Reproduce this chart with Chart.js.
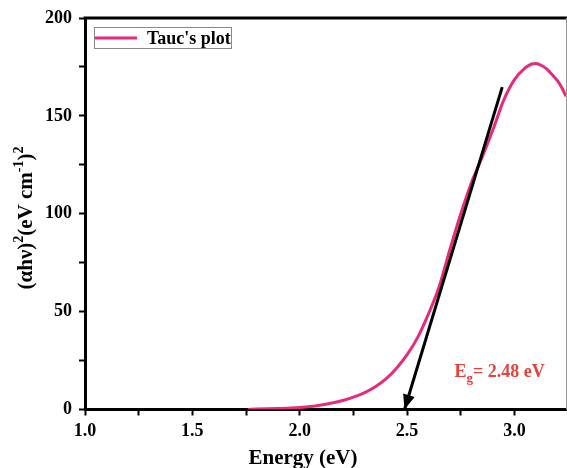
<!DOCTYPE html>
<html>
<head>
<meta charset="utf-8">
<script src="https://cdn.jsdelivr.net/npm/chart.js@4.4.1/dist/chart.umd.min.js"></script>
<style>
  html, body { margin: 0; padding: 0; background: #fff; }
  #wrap { width: 567px; height: 468px; }
</style>
</head>
<body>
<div id="wrap"><canvas id="taucChart" width="567" height="468"></canvas></div>
<script>
// photon energy (eV) and (alpha h nu)^2
const energy = [1.76, 1.80, 1.90, 2.00, 2.05, 2.10, 2.15, 2.20, 2.25, 2.30, 2.35, 2.40, 2.45, 2.50,
                2.55, 2.60, 2.65, 2.70, 2.75, 2.80, 2.85, 2.90, 2.95, 3.00, 3.05, 3.08, 3.10, 3.13,
                3.15, 3.18, 3.20, 3.22, 3.24];
const taucValues = [0, 0.2, 0.5, 1.0, 1.5, 2.3, 3.3, 4.6, 6.3, 8.5, 11.5, 15.5, 21, 28,
                    37, 49, 63, 82, 100, 116, 129, 143, 158, 168.5, 174.5, 176.5, 176.8, 175.5,
                    174, 170.5, 168, 164.5, 160];

// linear fit line (tangent) ending on the energy axis
const fitEnergy = [2.943, 2.488];
const fitValues = [164.7, 0];

const xTicks = [1.0, 1.5, 2.0, 2.5, 3.0];
const xMinorTicks = [1.25, 1.75, 2.25, 2.75];
const yTicks = [0, 50, 100, 150, 200];
const bandGap = 2.48;

const pink = '#e8297c';
const red = '#e8403a';
const serif = "'Liberation Serif', 'Times New Roman', serif";

function toPoints(xs, ys) {
    return xs.map((x, i) => ({ x: x, y: ys[i] }));
}

// draw a run of [text, size, raise] pieces starting at x, returns end x
function drawPieces(ctx, pieces, x, y) {
    pieces.forEach(p => {
        ctx.font = 'bold ' + p[1] + 'px ' + serif;
        ctx.fillText(p[0], x, y - p[2]);
        x += ctx.measureText(p[0]).width;
    });
    return x;
}

function piecesWidth(ctx, pieces) {
    let w = 0;
    pieces.forEach(p => {
        ctx.font = 'bold ' + p[1] + 'px ' + serif;
        w += ctx.measureText(p[0]).width;
    });
    return w;
}

// frame, arrow head, legend, axis titles and E_g label
const extrasPlugin = {
    id: 'extras',
    afterDraw(chart) {
        const ctx = chart.ctx;
        const area = chart.chartArea;
        const xs = chart.scales.x;
        const ys = chart.scales.y;
        ctx.save();

        // top frame line and thin right edge
        ctx.strokeStyle = '#000';
        ctx.lineWidth = 3;
        ctx.beginPath();
        ctx.moveTo(area.left - 1.5, area.top);
        ctx.lineTo(area.right + 2, area.top);
        ctx.stroke();
        ctx.strokeStyle = '#999';
        ctx.lineWidth = 1;
        ctx.beginPath();
        ctx.moveTo(area.right + 0.5, area.top);
        ctx.lineTo(area.right + 0.5, area.bottom);
        ctx.stroke();

        // arrow head at the bottom of the fit line
        const x0 = xs.getPixelForValue(fitEnergy[0]), y0 = ys.getPixelForValue(fitValues[0]);
        const x1 = xs.getPixelForValue(fitEnergy[1]), y1 = ys.getPixelForValue(fitValues[1]);
        const ang = Math.atan2(y1 - y0, x1 - x0);
        const len = 15, half = 6;
        ctx.fillStyle = '#000';
        ctx.beginPath();
        ctx.moveTo(x1, y1);
        ctx.lineTo(x1 - len * Math.cos(ang) + half * Math.sin(ang), y1 - len * Math.sin(ang) - half * Math.cos(ang));
        ctx.lineTo(x1 - len * Math.cos(ang) - half * Math.sin(ang), y1 - len * Math.sin(ang) + half * Math.cos(ang));
        ctx.closePath();
        ctx.fill();

        // legend
        const lx = area.left + 9, ly = area.top + 9;
        ctx.strokeStyle = '#888';
        ctx.lineWidth = 1;
        ctx.strokeRect(lx + 0.5, ly + 0.5, 137, 21);
        ctx.strokeStyle = pink;
        ctx.lineWidth = 3;
        ctx.beginPath();
        ctx.moveTo(lx + 1, ly + 11);
        ctx.lineTo(lx + 43, ly + 11);
        ctx.stroke();
        ctx.fillStyle = '#000';
        ctx.font = 'bold 18px ' + serif;
        ctx.textBaseline = 'alphabetic';
        ctx.fillText("Tauc's plot", lx + 53, ly + 17);

        // x axis title
        ctx.font = 'bold 21px ' + serif;
        ctx.textAlign = 'center';
        ctx.fillText('Energy (eV)', 303, 464);
        ctx.textAlign = 'left';

        // y axis title, rotated, with real superscripts
        const yTitle = [['(\u03b1h\u03bd)', 21, 0], ['2', 14, 9], ['(eV cm', 21, 0], ['-1', 14, 9],
                        [')', 21, 0], ['2', 14, 9]];
        ctx.save();
        ctx.translate(32, 218);
        ctx.rotate(-Math.PI / 2);
        drawPieces(ctx, yTitle, -piecesWidth(ctx, yTitle) / 2, 0);
        ctx.restore();

        // band gap label
        const tx = xs.getPixelForValue(2.721);
        const ty = ys.getPixelForValue(16.6);
        ctx.fillStyle = red;
        drawPieces(ctx, [['E', 18, 0], ['g', 13, -5], ['= ' + bandGap.toFixed(2) + ' eV', 18, 0]], tx, ty);

        ctx.restore();
    }
};

document.addEventListener("DOMContentLoaded", function() {
    const ctx = document.getElementById('taucChart').getContext('2d');

    new Chart(ctx, {
        type: 'line',
        data: {
            datasets: [{
                label: 'fit',
                data: toPoints(fitEnergy, fitValues),
                borderColor: '#000',
                borderWidth: 3,
                pointRadius: 0,
                tension: 0
            }, {
                label: "Tauc's plot",
                data: toPoints(energy, taucValues),
                borderColor: pink,
                borderWidth: 3,
                pointRadius: 0,
                cubicInterpolationMode: 'monotone'
            }]
        },
        options: {
            responsive: false,
            animation: false,
            layout: { padding: { top: 18, right: 1, left: 0, bottom: 0 } },
            plugins: {
                legend: { display: false },
                tooltip: { enabled: false }
            },
            scales: {
                x: {
                    type: 'linear',
                    min: 1.0,
                    max: 3.24,
                    afterBuildTicks: (scale) => {
                        scale.ticks = xTicks.concat(xMinorTicks).sort().map(v => ({ value: v }));
                    },
                    afterFit: (scale) => { scale.height = 58.5; },
                    ticks: {
                        color: '#000',
                        font: { family: serif, size: 18, weight: 'bold' },
                        padding: 5,
                        maxRotation: 0,
                        autoSkip: false,
                        callback: (v) => xTicks.includes(v) ? v.toFixed(1) : ''
                    },
                    grid: {
                        display: true,
                        drawOnChartArea: false,
                        drawTicks: true,
                        tickLength: 6,
                        tickColor: '#000',
                        tickWidth: 2
                    },
                    border: { display: true, color: '#000', width: 3 }
                },
                y: {
                    type: 'linear',
                    min: 0,
                    max: 200,
                    afterFit: (scale) => { scale.width = 85; },
                    ticks: {
                        stepSize: 25,
                        color: '#000',
                        font: { family: serif, size: 18, weight: 'bold' },
                        padding: 7,
                        autoSkip: false,
                        callback: (v) => yTicks.includes(v) ? String(v) : ''
                    },
                    grid: {
                        display: true,
                        drawOnChartArea: false,
                        drawTicks: true,
                        tickLength: 6,
                        tickColor: '#000',
                        tickWidth: 2
                    },
                    border: { display: true, color: '#000', width: 3 }
                }
            }
        },
        plugins: [extrasPlugin]
    });
});
</script>
</body>
</html>
